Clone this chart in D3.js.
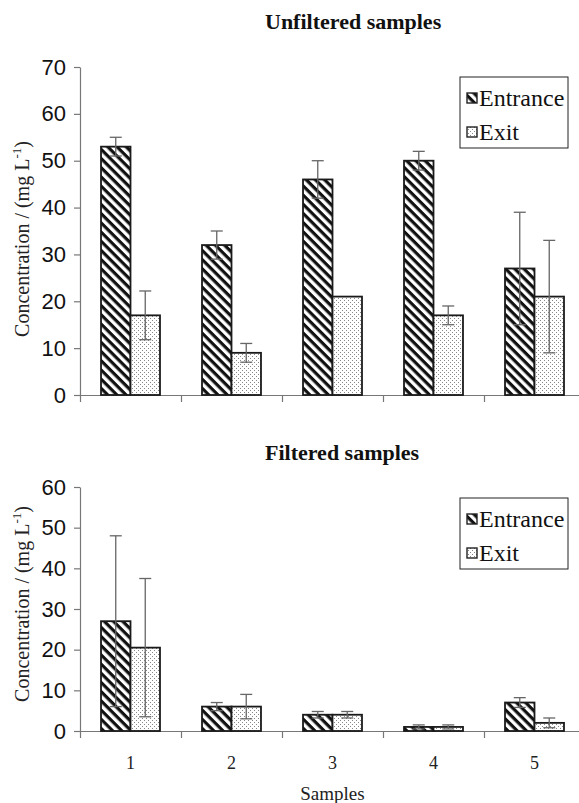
<!DOCTYPE html>
<html>
<head>
<meta charset="utf-8">
<script src="https://cdn.jsdelivr.net/npm/d3@7"></script>
<style>
  body { margin: 0; background: #fff; }
</style>
</head>
<body>
<div id="chart"></div>
<script>
const samples = ["1", "2", "3", "4", "5"];
const series = ["Entrance", "Exit"];
const unfilteredEntrance = [53, 32, 46, 50, 27];
const unfilteredEntranceErr = [2, 3, 4, 2, 12];
const unfilteredExit = [17, 9, 21, 17, 21];
const unfilteredExitErr = [5.2, 2, 0, 2, 12];
const filteredEntrance = [27, 6, 4, 1, 7];
const filteredEntranceErr = [21, 1, 0.8, 0.5, 1.2];
const filteredExit = [20.5, 6, 4, 1, 2];
const filteredExitErr = [17, 3, 0.8, 0.5, 1.2];
const unfilteredTicks = [0, 10, 20, 30, 40, 50, 60, 70];
const filteredTicks = [0, 10, 20, 30, 40, 50, 60];

const width = 579,
  height = 803;

const serif = "'Liberation Serif', 'Times New Roman', Times, serif";
const sans = "'Liberation Sans', Arial, sans-serif";

const svg = d3
  .select("#chart")
  .append("svg")
  .attr("width", width)
  .attr("height", height);

const defs = svg.append("defs");

// diagonal stripes for Entrance
const stripes = defs
  .append("pattern")
  .attr("id", "stripes")
  .attr("patternUnits", "userSpaceOnUse")
  .attr("width", 6.5)
  .attr("height", 6.5)
  .attr("patternTransform", "rotate(45)");
stripes.append("rect").attr("width", 6.5).attr("height", 6.5).attr("fill", "#fff");
stripes.append("rect").attr("width", 6.5).attr("height", 3.2).attr("fill", "#111");

// fine dots for Exit
const dots = defs
  .append("pattern")
  .attr("id", "dots")
  .attr("patternUnits", "userSpaceOnUse")
  .attr("width", 4)
  .attr("height", 4);
dots.append("rect").attr("width", 4).attr("height", 4).attr("fill", "#fff");
dots.append("rect").attr("x", 0).attr("y", 0).attr("width", 1).attr("height", 1).attr("fill", "#888");
dots.append("rect").attr("x", 2).attr("y", 2).attr("width", 1).attr("height", 1).attr("fill", "#888");

const fills = { Entrance: "url(#stripes)", Exit: "url(#dots)" };

const x0 = 80,
  x1 = 585;

const x = d3
  .scaleBand()
  .domain(samples)
  .range([x0, x1])
  .paddingInner(0.416)
  .paddingOuter(0.208);

const xSub = d3.scaleBand().domain(series).range([0, x.bandwidth()]);

function drawChart(cfg) {
  const g = svg.append("g");

  const y = d3.scaleLinear().domain([0, cfg.max]).range([cfg.bottom, cfg.top]);

  // title
  g.append("text")
    .attr("x", 265)
    .attr("y", cfg.titleY)
    .style("font-family", serif)
    .attr("font-weight", "bold")
    .attr("font-size", "22px")
    .attr("fill", "#111")
    .text(cfg.title);

  // y axis
  const yAxis = g
    .append("g")
    .attr("transform", `translate(${x0},0)`)
    .call(d3.axisLeft(y).tickValues(cfg.ticks).tickSize(6).tickSizeOuter(0).tickPadding(8));
  yAxis.select(".domain").attr("stroke", "#777").attr("stroke-width", 1.2);
  yAxis.selectAll(".tick line").attr("stroke", "#777").attr("stroke-width", 1.2);
  yAxis
    .selectAll(".tick text")
    .style("font-family", sans)
    .attr("font-size", "22px")
    .attr("fill", "#111");

  // x axis: ticks between categories
  const xb = d3.scaleLinear().domain([0, samples.length]).range([x0, x1]);
  const xAxis = g
    .append("g")
    .attr("transform", `translate(0,${cfg.bottom})`)
    .call(d3.axisBottom(xb).tickValues(d3.range(samples.length + 1)).tickSize(7).tickSizeOuter(0).tickFormat(""));
  xAxis.select(".domain").attr("stroke", "#777").attr("stroke-width", 1.2);
  xAxis.selectAll(".tick line").attr("stroke", "#777").attr("stroke-width", 1.2);

  // y axis label
  const label = g
    .append("text")
    .attr("transform", `translate(29,${cfg.labelY}) rotate(-90)`)
    .attr("text-anchor", "middle")
    .style("font-family", serif)
    .attr("font-size", "20px")
    .attr("fill", "#222");
  label.append("tspan").text("Concentration  /  (mg L");
  label.append("tspan").attr("font-size", "13px").attr("dy", -8).text("-1");
  label.append("tspan").attr("dy", 8).text(")");

  // bars
  const rows = [];
  samples.forEach((s, i) => {
    rows.push({ sample: s, key: "Entrance", value: cfg.entrance[i], err: cfg.entranceErr[i] });
    rows.push({ sample: s, key: "Exit", value: cfg.exit[i], err: cfg.exitErr[i] });
  });

  g.selectAll(".bar")
    .data(rows)
    .enter()
    .append("rect")
    .attr("class", "bar")
    .attr("x", (d) => x(d.sample) + xSub(d.key))
    .attr("y", (d) => y(d.value))
    .attr("width", xSub.bandwidth())
    .attr("height", (d) => y(0) - y(d.value))
    .attr("fill", (d) => fills[d.key])
    .attr("stroke", "#1a1a1a")
    .attr("stroke-width", 1.8);

  // error bars
  const eb = g
    .selectAll(".err")
    .data(rows.filter((d) => d.err > 0))
    .enter()
    .append("g")
    .attr("class", "err")
    .attr("stroke", "#666")
    .attr("stroke-width", 1.3);
  const cx = (d) => x(d.sample) + xSub(d.key) + xSub.bandwidth() / 2;
  eb.append("line")
    .attr("x1", cx)
    .attr("x2", cx)
    .attr("y1", (d) => y(d.value + d.err))
    .attr("y2", (d) => y(Math.max(0, d.value - d.err)));
  eb.append("line")
    .attr("x1", (d) => cx(d) - 6)
    .attr("x2", (d) => cx(d) + 6)
    .attr("y1", (d) => y(d.value + d.err))
    .attr("y2", (d) => y(d.value + d.err));
  eb.append("line")
    .attr("x1", (d) => cx(d) - 6)
    .attr("x2", (d) => cx(d) + 6)
    .attr("y1", (d) => y(Math.max(0, d.value - d.err)))
    .attr("y2", (d) => y(Math.max(0, d.value - d.err)));

  // legend
  const lg = g.append("g").attr("transform", `translate(460,${cfg.legendY})`);
  lg.append("rect")
    .attr("width", 108)
    .attr("height", 71)
    .attr("fill", "#fff")
    .attr("stroke", "#222")
    .attr("stroke-width", 1);
  series.forEach((s, i) => {
    lg.append("rect")
      .attr("x", 7)
      .attr("y", 16 + i * 34)
      .attr("width", 10)
      .attr("height", 10)
      .attr("fill", fills[s])
      .attr("stroke", "#222")
      .attr("stroke-width", 1.4);
    lg.append("text")
      .attr("x", 19)
      .attr("y", 29 + i * 34)
      .style("font-family", serif)
      .attr("font-size", "24px")
      .attr("fill", "#111")
      .text(s);
  });

  // category labels
  if (cfg.showLabels) {
    g.selectAll(".cat")
      .data(samples)
      .enter()
      .append("text")
      .attr("x", (d) => x(d) + x.bandwidth() / 2)
      .attr("y", cfg.bottom + 38)
      .attr("text-anchor", "middle")
      .style("font-family", serif)
      .attr("font-size", "18px")
      .attr("fill", "#222")
      .text((d) => d);

    g.append("text")
      .attr("x", (x0 + x1) / 2)
      .attr("y", 800)
      .attr("text-anchor", "middle")
      .style("font-family", serif)
      .attr("font-size", "19px")
      .attr("fill", "#222")
      .text("Samples");
  }
}

drawChart({
  title: "Unfiltered samples",
  titleY: 29,
  top: 67,
  bottom: 395,
  max: 70,
  ticks: unfilteredTicks,
  labelY: 239,
  legendY: 77,
  entrance: unfilteredEntrance,
  entranceErr: unfilteredEntranceErr,
  exit: unfilteredExit,
  exitErr: unfilteredExitErr,
  showLabels: false,
});

drawChart({
  title: "Filtered samples",
  titleY: 460,
  top: 487,
  bottom: 731,
  max: 60,
  ticks: filteredTicks,
  labelY: 604,
  legendY: 498,
  entrance: filteredEntrance,
  entranceErr: filteredEntranceErr,
  exit: filteredExit,
  exitErr: filteredExitErr,
  showLabels: true,
});
</script>
</body>
</html>
